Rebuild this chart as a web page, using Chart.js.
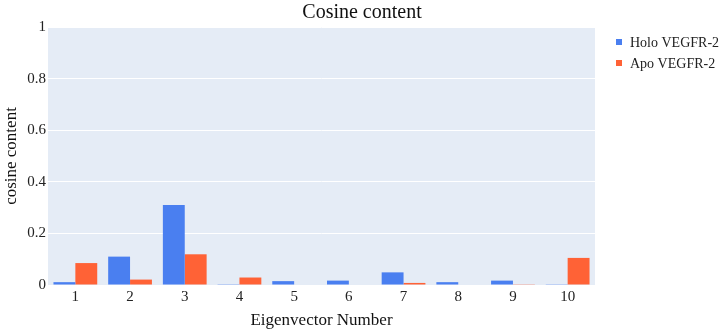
<!DOCTYPE html>
<html>
<head>
<meta charset="utf-8">
<script src="https://cdn.jsdelivr.net/npm/chart.js@4"></script>
<style>
  html, body { margin: 0; padding: 0; background: #fff; }
  #wrap { width: 724px; height: 331px; }
</style>
</head>
<body>
<div id="wrap"><canvas id="chart" width="724" height="331"></canvas></div>
<script>
// categories = eigenvector numbers
const eigenvectors = ['1', '2', '3', '4', '5', '6', '7', '8', '9', '10'];
const holoValues = [0.011, 0.110, 0.310, 0.003, 0.015, 0.017, 0.049, 0.011, 0.017, 0.001];
const apoValues = [0.085, 0.021, 0.119, 0.029, 0.002, 0.000, 0.008, 0.000, 0.001, 0.105];
const seriesNames = ['Holo VEGFR-2', 'Apo VEGFR-2'];
const seriesColors = ['#4a7ff0', '#ff6236'];
const yTicks = [0, 0.2, 0.4, 0.6, 0.8, 1];

const FONT = '"Liberation Serif", "Times New Roman", serif';
Chart.defaults.font.family = FONT;
Chart.defaults.color = '#222';

// plotly-like light background behind the plot
const plotBg = {
  id: 'plotBg',
  beforeDraw(chart) {
    const a = chart.chartArea;
    const ctx = chart.ctx;
    ctx.save();
    ctx.fillStyle = '#e5ecf6';
    ctx.fillRect(a.left, a.top, a.right - a.left, a.bottom - a.top);
    ctx.restore();
  }
};

// legend to the right of the plot, small square markers
const sideLegend = {
  id: 'sideLegend',
  afterDraw(chart) {
    const ctx = chart.ctx;
    const x0 = chart.chartArea.right + 21;
    let y = 42;
    ctx.save();
    ctx.font = '14px ' + FONT;
    ctx.textBaseline = 'middle';
    chart.data.datasets.forEach(function(ds) {
      ctx.fillStyle = ds.backgroundColor;
      ctx.fillRect(x0, y - 3, 6, 6);
      ctx.fillStyle = '#222';
      ctx.fillText(ds.label, x0 + 14, y + 1);
      y += 21;
    });
    ctx.restore();
  }
};

new Chart(document.getElementById('chart'), {
  type: 'bar',
  data: {
    labels: eigenvectors,
    datasets: [
      { label: seriesNames[0], data: holoValues, backgroundColor: seriesColors[0] },
      { label: seriesNames[1], data: apoValues, backgroundColor: seriesColors[1] }
    ]
  },
  options: {
    responsive: false,
    animation: false,
    datasets: { bar: { categoryPercentage: 0.8, barPercentage: 1.0 } },
    plugins: {
      legend: { display: false },
      tooltip: { enabled: false },
      title: {
        display: true,
        text: 'Cosine content',
        color: '#111',
        font: { family: FONT, size: 20, weight: 'normal' },
        padding: { top: 1, bottom: 2 }
      }
    },
    scales: {
      x: {
        grid: { display: false, drawTicks: false },
        border: { display: false },
        ticks: { color: '#222', font: { family: FONT, size: 15 }, padding: 3 },
        title: {
          display: true,
          text: 'Eigenvector Number',
          color: '#111',
          font: { family: FONT, size: 17 },
          padding: { top: 1, bottom: 0 }
        },
        afterFit(scale) { scale.height = 46; }
      },
      y: {
        min: 0,
        max: 1,
        afterBuildTicks(scale) {
          scale.ticks = yTicks.map(function(v) { return { value: v }; });
        },
        ticks: {
          color: '#222',
          font: { family: FONT, size: 15 },
          padding: 2,
          callback: function(v) { return String(Number(v.toFixed(1))); }
        },
        grid: { color: '#ffffff', lineWidth: 1, drawTicks: false },
        border: { display: false },
        title: {
          display: true,
          text: 'cosine content',
          color: '#111',
          font: { family: FONT, size: 17 },
          padding: { top: 1, bottom: 0 }
        },
        afterFit(scale) { scale.width = 48; }
      },
      // empty right-hand strip that holds the legend
      side: {
        type: 'linear',
        position: 'right',
        grid: { display: false, drawTicks: false },
        border: { display: false },
        ticks: { display: false },
        afterFit(scale) { scale.width = 129; }
      }
    }
  },
  plugins: [plotBg, sideLegend]
});
</script>
</body>
</html>
